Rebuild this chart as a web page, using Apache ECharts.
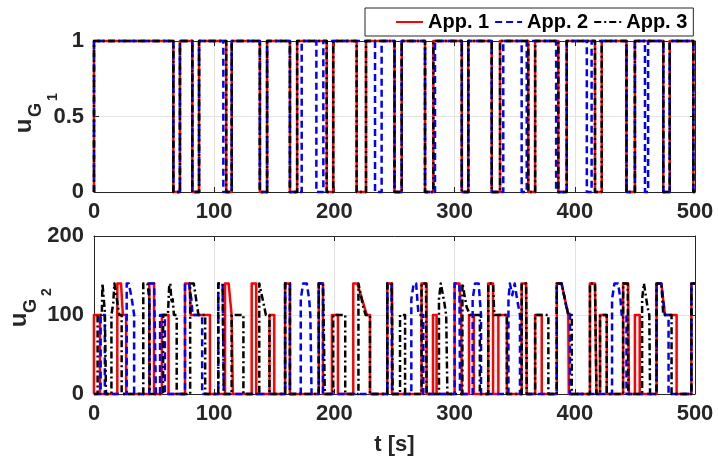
<!DOCTYPE html>
<html>
<head>
<meta charset="utf-8">
<script src="https://cdn.jsdelivr.net/npm/echarts@6/dist/echarts.min.js"></script>
<style>
  html, body { margin: 0; padding: 0; background: #fff; }
  #chart { width: 718px; height: 457px; }
</style>
</head>
<body>
<div id="chart"></div>
<script>
// Time axis (seconds) and tick labels
const tTicks = [0, 100, 200, 300, 400, 500];
const uG1Ticks = [0, 0.5, 1];
const uG2Ticks = [0, 100, 200];
const seriesNames = ['App. 1', 'App. 2', 'App. 3'];

// u_G1: intervals [off, on] where the unit is switched off (value 0), otherwise 1
const uG1OffApp1 = [[66,71.5],[81.8,87.4],[110,114.6],[138,144],[163,169],[193.6,199],[218.5,226.3],[250,256],[275.4,282.3],[306,311.4],[330.9,337.8],[361.3,367],[386.3,393.3],[416.8,422.4],[443,450],[473.6,479],[498.6,500]];
const uG1OffApp2 = [[66,71.5],[81.8,87.4],[107.6,114.6],[138,144],[163,172.8],[185,190.8],[233.8,239.3],[250,256],[275.4,283.7],[306,311.4],[330.9,340.5],[355.8,360],[384.5,393.3],[410,414],[443,450],[458.4,461],[473.6,479],[498.6,500]];
const uG1OffApp3 = [[66,71.5],[81.8,87.4],[110,114.6],[138,144],[163,169],[193.6,199],[218.5,226.3],[250,256],[275.4,282.3],[306,311.4],[330.9,337.8],[361.3,367],[386.3,393.3],[416.8,422.4],[443,450],[473.6,479],[498.6,500]];

// u_G2: breakpoints [t, value]
const uG2App1 = [[0,0],[0,100],[5,100],[5,0],
  [19.4,0],[19.4,140],[22.5,140],[24,100],[26.8,100],[26.8,0],
  [46,0],[46,140],[50,140],[50,0],
  [56.5,0],[56.5,100],[62,100],[62,0],
  [75.7,0],[75.7,140],[79.5,140],[80.5,100],[96.5,100],[96.5,0],
  [109,0],[109,140],[112,140],[114.5,100],[115.5,100],[115.5,0],
  [131.2,0],[131.2,140],[135,140],[135,0],
  [146,0],[146,100],[150,100],[150,0],
  [159,0],[159,140],[163,140],[163,0],
  [187,0],[187,140],[190.5,140],[190.5,0],
  [198,0],[198,100],[203,100],[203,0],
  [215.7,0],[215.7,140],[219,140],[227,100],[229.6,100],[229.6,0],
  [244,0],[244,140],[248,140],[248,0],
  [272.5,0],[272.5,140],[276.7,140],[276.7,0],
  [282,0],[282,100],[285,100],[285,0],
  [300,0],[300,140],[304,140],[305.5,100],[306,100],[306,0],
  [312,0],[312,100],[316,100],[316,0],
  [328,0],[328,140],[332,140],[332,0],
  [336.4,0],[336.4,100],[343.5,100],[343.5,0],
  [355.8,0],[355.8,140],[359.5,140],[360,0],
  [367,0],[367,100],[372.5,100],[372.5,0],
  [385,0],[385,140],[389,140],[394.6,100],[395,100],[395,0],
  [412.6,0],[412.6,140],[416.8,140],[418,0],
  [421,0],[421,100],[426.6,100],[426.6,0],
  [440.2,0],[440.2,140],[444.4,140],[445,0],
  [450,0],[450,100],[454,100],[454,0],
  [468,0],[468,140],[472,140],[475,100],[484.7,100],[484.7,0],
  [497,0],[497,140],[500,140]];

const uG2App2 = [[0,0],[5.5,0],[5.5,100],[9,100],[9,0],
  [27.2,0],[27.2,140],[29,140],[31.5,120],[33.4,100],[33.4,0],
  [46,0],[46,140],[50,140],[51.5,0],
  [55,0],[55,100],[59,100],[59,0],
  [75.7,0],[75.7,140],[79,140],[81,120],[82,100],[90,100],[90,0],
  [103.4,0],[103.4,140],[107,140],[108,0],
  [159,0],[159,140],[163,140],[163,0],
  [172,0],[172,120],[174,140],[177,140],[179,120],[180,100],[181,100],[181,0],
  [187,0],[187,140],[190.5,140],[190.5,0],
  [244,0],[244,140],[247.5,140],[248,0],
  [264,0],[264,120],[266,140],[268,140],[269.5,110],[270,100],[274,100],[274,0],
  [300,0],[300,140],[304,140],[304.5,0],
  [315,0],[315,120],[317,140],[320,140],[321,120],[322,100],[322,0],
  [344.8,0],[344.8,120],[346,140],[348,125],[350,140],[352,120],[354.4,100],[354.4,0],
  [385,0],[385,140],[389,140],[393,110],[396,100],[396,0],
  [431,0],[431,120],[433,140],[436,140],[438,120],[439,100],[443,100],[443,0],
  [468,0],[468,140],[472,140],[475,100],[478,100],[478,0],
  [497,0],[497,140],[500,140]];

const uG2App3 = [[0,0],[3,0],[3,100],[6.5,100],[7,140],[8,140],[9,105],[10,105],[10,0],
  [14.5,0],[14.5,100],[16,115],[17,140],[18.5,140],[19.5,115],[21,100],[23,100],[23,0],
  [41,0],[41,140],[44.5,140],[46,120],[46.5,0],
  [57.5,0],[57.5,100],[61.5,100],[62.5,135],[63.5,140],[64.5,115],[65.5,120],[66.5,100],[68.8,100],[68.8,0],
  [80,0],[80,140],[83,140],[86.9,100],[92.5,100],[92.5,0],
  [103.4,0],[103.4,140],[107,140],[108,0],
  [114.5,0],[114.5,100],[124.3,100],[124.3,0],
  [137.5,0],[137.5,140],[139,140],[141,115],[143,100],[146,100],[146,0],
  [159,0],[159,140],[163,140],[163,0],
  [187,0],[187,140],[190.5,140],[191,100],[192,100],[192,0],
  [199,0],[199,100],[209,100],[209,0],
  [220,0],[220,140],[221.5,140],[224,110],[226,100],[229.6,100],[229.6,0],
  [244,0],[244,140],[247.5,140],[248,100],[248.5,100],[248.5,0],
  [254.6,0],[254.6,100],[258.8,100],[258.8,0],
  [272.5,0],[272.5,140],[276.2,140],[276.7,0],
  [287,0],[287,120],[288.5,140],[290,140],[291.5,115],[293,100],[294,100],[294,0],
  [306.5,0],[306.5,140],[308,140],[310,110],[312.8,100],[321,100],[321,0],
  [328,0],[328,140],[332,140],[333,100],[343.5,100],[343.5,0],
  [355.8,0],[355.8,140],[359.5,140],[360,0],
  [367,0],[367,100],[378,100],[378,0],
  [385,0],[385,140],[389,140],[394.6,100],[397.5,100],[397.5,0],
  [412.6,0],[412.6,140],[416.8,140],[418,0],
  [421,0],[421,100],[426.6,100],[426.6,0],
  [440.2,0],[440.2,140],[444,140],[444.5,0],
  [456,0],[456,120],[457.5,140],[459,140],[460.5,110],[462,100],[462.6,100],[462.6,0],
  [468,0],[468,140],[472,140],[473.6,100],[480.5,100],[480.5,0],
  [497,0],[497,140],[500,140]];

// Build an on/off step trace from the off-intervals
function onOffTrace(offs) {
  const pts = [[0, 0], [0, 1]];
  offs.forEach(([a, b]) => {
    pts.push([a, 1], [a, 0], [b, 0]);
    if (b < 500) pts.push([b, 1]);
  });
  const last = pts[pts.length - 1];
  if (last[0] < 500) pts.push([500, last[1]]);
  return pts;
}

const FONT = '"Liberation Sans", Arial, Helvetica, sans-serif';
const INK = '#262626';
const GRIDC = '#e3e3e3';
const styles = [
  { color: '#ff0000', type: 'solid', width: 2.5 },
  { color: '#0000ff', type: [7, 4], width: 2.5 },
  { color: '#000000', type: [7, 3, 2, 3], width: 2.5 }
];

function xAx(grid, showLabels, name) {
  return [
    {
      gridIndex: grid, type: 'value', min: tTicks[0], max: tTicks[tTicks.length - 1], interval: 100,
      axisLine: { show: true, onZero: false, lineStyle: { color: INK, width: 1 } },
      axisTick: { show: true, inside: true, length: 5, lineStyle: { color: INK } },
      axisLabel: { show: showLabels, fontSize: 22, fontWeight: 'bold', color: INK, fontFamily: FONT, margin: 9 },
      splitLine: { show: true, lineStyle: { color: GRIDC, width: 1 } },
      name: name || '', nameLocation: 'middle', nameGap: 40,
      nameTextStyle: { fontSize: 22, fontWeight: 'bold', color: INK, fontFamily: FONT }
    },
    {
      gridIndex: grid, type: 'value', position: 'top', min: 0, max: 500, interval: 100,
      axisLine: { show: true, onZero: false, lineStyle: { color: INK, width: 1 } },
      axisTick: { show: true, inside: true, length: 5, lineStyle: { color: INK } },
      axisLabel: { show: false }, splitLine: { show: false }
    }
  ];
}
function yAx(grid, ticks) {
  const mn = ticks[0], mx = ticks[ticks.length - 1], step = ticks[1] - ticks[0];
  return [
    {
      gridIndex: grid, type: 'value', min: mn, max: mx, interval: step,
      axisLine: { show: true, onZero: false, lineStyle: { color: INK, width: 1 } },
      axisTick: { show: true, inside: true, length: 5, lineStyle: { color: INK } },
      axisLabel: { fontSize: 22, fontWeight: 'bold', color: INK, fontFamily: FONT, margin: 10 },
      splitLine: { show: true, lineStyle: { color: GRIDC, width: 1 } }
    },
    {
      gridIndex: grid, type: 'value', position: 'right', min: mn, max: mx, interval: step,
      axisLine: { show: true, onZero: false, lineStyle: { color: INK, width: 1 } },
      axisTick: { show: true, inside: true, length: 5, lineStyle: { color: INK } },
      axisLabel: { show: false }, splitLine: { show: false }
    }
  ];
}

function lineSeries(name, data, xi, yi, st) {
  return {
    name: name, type: 'line', data: data, xAxisIndex: xi, yAxisIndex: yi,
    symbol: 'none', clip: false, animation: false,
    lineStyle: { color: st.color, type: st.type, width: st.width, join: 'round', cap: 'butt' },
    itemStyle: { color: st.color }
  };
}

const upperTraces = [onOffTrace(uG1OffApp1), onOffTrace(uG1OffApp2), onOffTrace(uG1OffApp3)];
const lowerTraces = [uG2App1, uG2App2, uG2App3];

const seriesList = [];
for (let i = 0; i < 3; i++) seriesList.push(lineSeries(seriesNames[i], upperTraces[i], 0, 0, styles[i]));
for (let i = 0; i < 3; i++) seriesList.push(lineSeries(seriesNames[i], lowerTraces[i], 2, 2, styles[i]));

// Rotated y-axis titles with nested subscripts
function glyph(text, x, y, size) {
  return {
    type: 'text', x: x, y: y, rotation: Math.PI / 2,
    style: { text: text, fontSize: size, fontWeight: 'bold', fontFamily: FONT, fill: INK,
             align: 'center', verticalAlign: 'middle' }
  };
}

const chart = echarts.init(document.getElementById('chart'), null, { renderer: 'canvas' });
chart.setOption({
  backgroundColor: '#ffffff',
  animation: false,
  grid: [
    { left: 94, top: 41, width: 601, height: 151, containLabel: false },
    { left: 94, top: 236, width: 601, height: 160, containLabel: false }
  ],
  xAxis: [...xAx(0, true), ...xAx(1, true, 't [s]')],
  yAxis: [...yAx(0, uG1Ticks), ...yAx(1, uG2Ticks)],
  legend: {
    data: seriesNames, left: 365, top: 8, orient: 'horizontal',
    itemWidth: 27, itemHeight: 14, itemGap: 5,
    padding: [4, 6, 4, 30],
    backgroundColor: '#ffffff', borderColor: INK, borderWidth: 1, borderRadius: 0,
    itemStyle: { opacity: 0 },
    textStyle: { fontSize: 20, fontWeight: 'bold', color: '#000', fontFamily: FONT },
    selectedMode: false
  },
  graphic: [
    glyph('u', 24, 126, 24), glyph('G', 36.5, 110, 18), glyph('1', 53, 97, 14),
    glyph('u', 19, 320, 24), glyph('G', 31, 306, 18), glyph('2', 47, 292, 14)
  ],
  series: seriesList
});
</script>
</body>
</html>
